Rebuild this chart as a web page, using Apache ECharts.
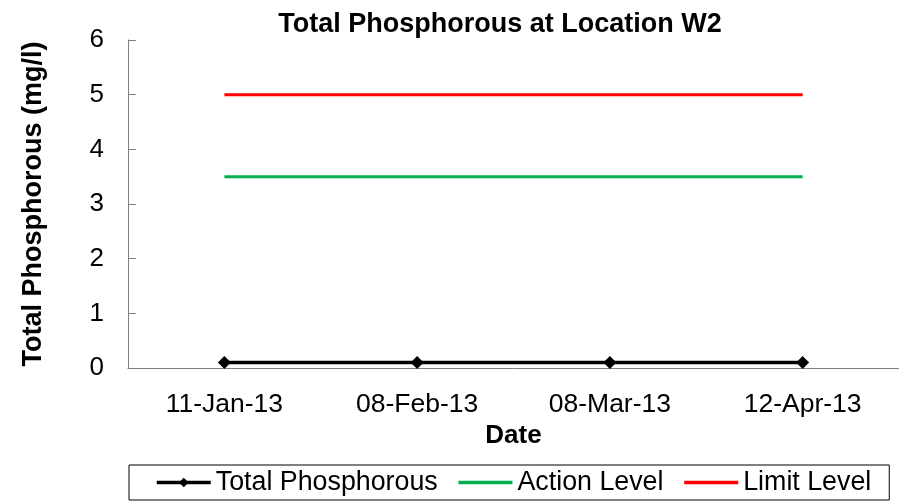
<!DOCTYPE html>
<html>
<head>
<meta charset="utf-8">
<script src="https://cdn.jsdelivr.net/npm/echarts@6/dist/echarts.min.js"></script>
<style>html,body{margin:0;padding:0;background:#fff;}#c{width:899px;height:504px;}</style>
</head>
<body>
<div id="c"></div>
<script>
const categories = ['11-Jan-13', '08-Feb-13', '08-Mar-13', '12-Apr-13'];
const totalPhosphorous = [0.1, 0.1, 0.1, 0.1];
const actionLevel = [3.5, 3.5, 3.5, 3.5];
const limitLevel = [5, 5, 5, 5];
const yTicks = [0, 1, 2, 3, 4, 5, 6];

const FONT = 'Liberation Sans, Arial, sans-serif';
const chart = echarts.init(document.getElementById('c'), null, {renderer: 'canvas'});
chart.setOption({
  animation: false,
  backgroundColor: '#fff',
  textStyle: {fontFamily: FONT, color: '#000'},
  title: {
    text: 'Total Phosphorous at Location W2',
    left: 495, top: 6, textAlign: 'center',
    textStyle: {fontFamily: FONT, fontWeight: 'bold', fontSize: 27, color: '#000'}
  },
  grid: {left: 128, top: 40, width: 776, height: 328, containLabel: false},
  xAxis: {
    type: 'category',
    data: categories,
    boundaryGap: true,
    name: 'Date',
    nameLocation: 'middle',
    nameGap: 50,
    nameTextStyle: {fontFamily: FONT, fontWeight: 'bold', fontSize: 26, color: '#000'},
    axisLine: {lineStyle: {color: '#808080', width: 1}},
    axisTick: {inside: true, length: 8, lineStyle: {color: '#808080'}},
    axisLabel: {fontFamily: FONT, fontSize: 26.5, color: '#000', margin: 23},
    splitLine: {show: false}
  },
  yAxis: {
    type: 'value',
    min: yTicks[0], max: yTicks[yTicks.length - 1], interval: 1,
    name: 'Total Phosphorous (mg/l)',
    nameLocation: 'middle',
    nameGap: 81,
    nameRotate: 90,
    nameTextStyle: {fontFamily: FONT, fontWeight: 'bold', fontSize: 27, color: '#000'},
    axisLine: {show: true, lineStyle: {color: '#808080', width: 1}},
    axisTick: {show: true, inside: true, length: 8, lineStyle: {color: '#808080'}},
    axisLabel: {fontFamily: FONT, fontSize: 26, color: '#000', margin: 24},
    splitLine: {show: false}
  },
  legend: {
    left: 129, top: 465,
    padding: [4, 18, 4, 26],
    itemGap: 19,
    itemWidth: 54,
    itemHeight: 12,
    borderColor: '#000',
    borderWidth: 1,
    textStyle: {fontFamily: FONT, fontSize: 26.8, color: '#000'},
    data: [
      {name: 'Total Phosphorous', lineStyle: {width: 3.5}},
      {name: 'Action Level', itemStyle: {opacity: 0}, lineStyle: {width: 3.5}},
      {name: 'Limit Level', itemStyle: {opacity: 0}, lineStyle: {width: 3.5}}
    ]
  },
  series: [
    {
      name: 'Total Phosphorous', type: 'line', data: totalPhosphorous,
      symbol: 'diamond', symbolSize: 13,
      lineStyle: {color: '#000', width: 3.5},
      itemStyle: {color: '#000'}
    },
    {
      name: 'Action Level', type: 'line', data: actionLevel,
      symbol: 'none',
      lineStyle: {color: '#00B050', width: 3},
      itemStyle: {color: '#00B050'}
    },
    {
      name: 'Limit Level', type: 'line', data: limitLevel,
      symbol: 'none',
      lineStyle: {color: '#FF0000', width: 3},
      itemStyle: {color: '#FF0000'}
    }
  ]
});
</script>
</body>
</html>
